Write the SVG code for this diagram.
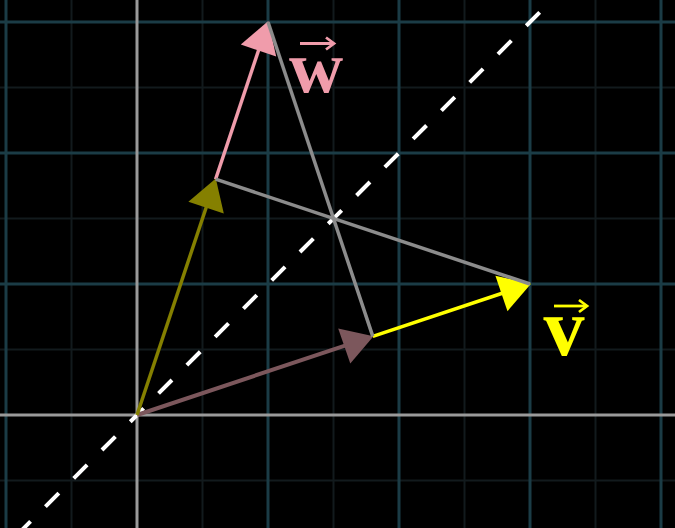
<svg xmlns="http://www.w3.org/2000/svg" width="675" height="528" viewBox="0 0 675 528">
<style>
.minor{stroke:#121a1d;stroke-width:2}
.major{stroke:#1b3c46;stroke-width:3}
.axis{stroke:#9a9a9a;stroke-width:3}
.proj{stroke:#8c8c8c;stroke-width:3.5;fill:none}
.lbl{font-family:"Liberation Serif","DejaVu Serif",serif;font-weight:bold;text-anchor:middle}
</style>
<rect x="0" y="0" width="675" height="528" fill="#000"/>
<g id="grid">
<g class="minor">
<line x1="71.5" y1="0" x2="71.5" y2="528"/>
<line x1="202.5" y1="0" x2="202.5" y2="528"/>
<line x1="333.5" y1="0" x2="333.5" y2="528"/>
<line x1="464.5" y1="0" x2="464.5" y2="528"/>
<line x1="595.5" y1="0" x2="595.5" y2="528"/>
<line x1="0" y1="87.5" x2="675" y2="87.5"/>
<line x1="0" y1="218.5" x2="675" y2="218.5"/>
<line x1="0" y1="349.5" x2="675" y2="349.5"/>
<line x1="0" y1="480.5" x2="675" y2="480.5"/>
</g>
<g class="major">
<line x1="6" y1="0" x2="6" y2="528"/>
<line x1="268" y1="0" x2="268" y2="528"/>
<line x1="399" y1="0" x2="399" y2="528"/>
<line x1="530" y1="0" x2="530" y2="528"/>
<line x1="661" y1="0" x2="661" y2="528"/>
<line x1="0" y1="22" x2="675" y2="22"/>
<line x1="0" y1="153" x2="675" y2="153"/>
<line x1="0" y1="284" x2="675" y2="284"/>
</g>
<g class="axis">
<line x1="137" y1="0" x2="137" y2="528"/>
<line x1="0" y1="415" x2="675" y2="415"/>
</g>
</g>
<g id="mirror-line">
<line x1="22" y1="530" x2="540" y2="12" stroke="#ffffff" stroke-width="4" stroke-dasharray="19 21" stroke-dashoffset="6.9"/>
</g>
<g id="connectors">
<g id="vec-v-part1">
<line x1="137" y1="415" x2="345" y2="345.6" stroke="#7c575c" stroke-width="4"/>
<polygon points="373.5,336.2 350.3,363.6 338.2,328.4" fill="#7c575c"/>
</g>
<g id="vec-v-part2">
<line x1="372.8" y1="336.4" x2="503" y2="293" stroke="#ffff00" stroke-width="3.5"/>
<polygon points="531,283.7 507.5,311.2 495.4,275.8" fill="#ffff00"/>
</g>
<g id="vec-w-part1">
<line x1="137" y1="415" x2="206.5" y2="206.5" stroke="#858000" stroke-width="3.5"/>
<polygon points="215.8,178.5 223.8,213.6 188.4,201.8" fill="#858000"/>
</g>
<g id="vec-w-part2">
<line x1="215.6" y1="179.2" x2="259" y2="49" stroke="#f09cab" stroke-width="3.5"/>
<polygon points="268.3,21 276.2,56.4 240.8,44.6" fill="#f09cab"/>
</g>
<g id="projections">
<line class="proj" x1="268" y1="22" x2="372.8" y2="336.4"/>
<line class="proj" x1="215.6" y1="179.2" x2="530" y2="284"/>
</g>
</g>
<g id="label-w">
<text class="lbl" x="316" y="92" font-size="75" fill="#f09cab">w</text>
<line x1="300" y1="43.5" x2="333" y2="43.5" stroke="#f09cab" stroke-width="2.8"/>
<polyline points="326,37.5 334,43.5 326,49.5" fill="none" stroke="#f09cab" stroke-width="2.8"/>
</g>
<g id="label-v">
<text class="lbl" x="564" y="355" font-size="82" fill="#ffff00">v</text>
<line x1="554" y1="306" x2="586" y2="306" stroke="#ffff00" stroke-width="2.8"/>
<polyline points="579,300 587,306 579,312" fill="none" stroke="#ffff00" stroke-width="2.8"/>
</g>
</svg>
